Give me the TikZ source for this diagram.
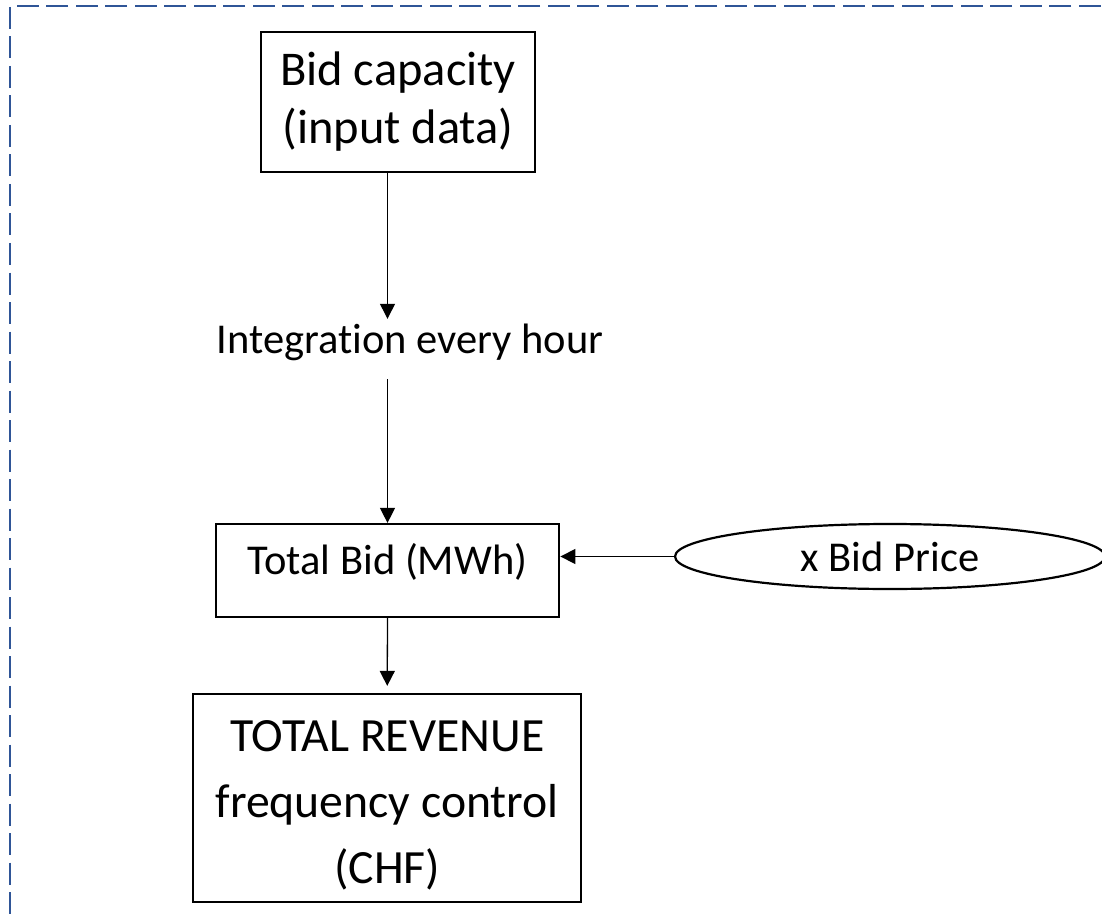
\documentclass[tikz,border=0pt]{standalone}
\usepackage{fontspec}
\setmainfont{Carlito}[Ligatures={NoCommon}]
\usetikzlibrary{arrows.meta,shapes.geometric}
\definecolor{frameblue}{RGB}{47,85,151}
\tikzset{
  boxnode/.style={draw=black,line width=2.2pt,rectangle,inner sep=0pt,align=center},
  conn/.style={draw=black,line width=1.3pt,-{Triangle[length=15pt,width=15pt]}},
}
\begin{document}
\begin{tikzpicture}[x=1pt,y=1pt]
\useasboundingbox (0,0) rectangle (1102,-917);
\clip (0,0) rectangle (1102,-917);
\fill[white] (0,0) rectangle (1102,-917);
\draw[frameblue,line width=2.3pt,dash pattern=on 22pt off 7.5pt] (1130,-6) -- (10,-6) -- (10,-940);
\node[boxnode,minimum width=274pt,text height=112.3pt,text depth=27.7pt,font=\fontsize{48.5}{58}\selectfont] (b1) at (398,-101.7) {Bid capacity\\(input data)};
\node[inner sep=0pt,text height=34pt,text depth=26pt,anchor=base,font=\fontsize{42.5}{51}\selectfont] (integ) at (410,-353) {Integration every hour};
\node[boxnode,minimum width=343.6pt,text height=50pt,text depth=43pt,font=\fontsize{42.5}{51}\selectfont] (b2) at (387.5,-570.5) {Total Bid (MWh)};
\node[boxnode,minimum width=387.7pt,text height=189pt,text depth=19pt,font=\fontsize{47.7}{66}\selectfont] (b3) at (387.2,-798) {TOTAL REVENUE\\frequency control\\(CHF)};
\node[draw=black,line width=2.2pt,ellipse,inner sep=0pt,minimum width=430pt,minimum height=65pt,font=\fontsize{42.5}{51}\selectfont] (price) at (890,-556.5) {x Bid Price};
\draw[conn] (b2.north |- b1.south) -- (b2.north |- integ.north);
\draw[conn] (b2.north |- integ.south) -- (b2.north);
\draw[conn,shorten >=7pt] (b2.south) -- (b3.north);
\draw[conn] (price.west) -- (b2.east |- price.west);
\end{tikzpicture}
\end{document}
